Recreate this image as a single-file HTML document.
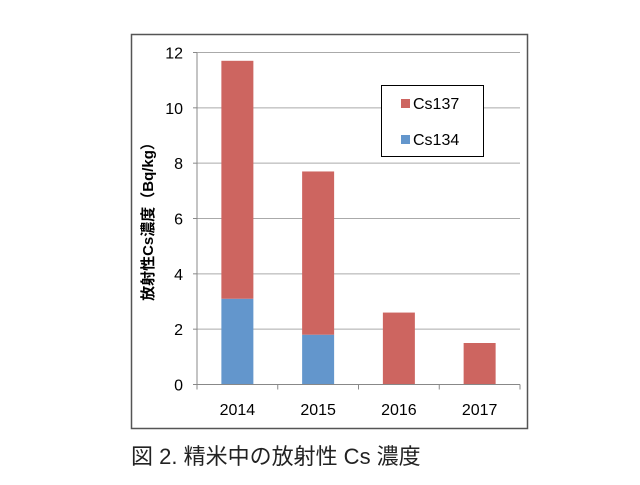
<!DOCTYPE html>
<html><head><meta charset="utf-8"><style>
body{margin:0;background:#fff;width:640px;height:480px;overflow:hidden;font-family:"Liberation Sans","Noto Sans CJK JP",sans-serif}
</style></head><body>
<svg width="640" height="480" xmlns="http://www.w3.org/2000/svg">
<rect x="131.5" y="34.5" width="396" height="394" fill="#fff" stroke="#555" stroke-width="1.5"/>
<g id="grid"></g><g id="bars"></g><g id="axes"></g>
<text transform="translate(153,218) rotate(-90)" text-anchor="middle" font-size="15" font-weight="bold" fill="#000">放射性Cs濃度（Bq/kg）</text>
<g>
<rect x="381.5" y="85.5" width="102" height="71" fill="#fff" stroke="#000" stroke-width="1"/>
<rect x="401" y="99" width="9" height="9" fill="#cd6560"/>
<text x="413" y="109" font-size="16">Cs137</text>
<rect x="401" y="135" width="9" height="9" fill="#6396cc"/>
<text x="413" y="145" font-size="16">Cs134</text>
</g>
<text x="131" y="464" font-size="22" fill="#222">図 2. 精米中の放射性 Cs 濃度</text>
</svg>
<script>
const categories=["2014","2015","2016","2017"];
const cs134=[3.1,1.8,0,0];
const cs137=[8.6,5.9,2.6,1.5];
const yTicks=[0,2,4,6,8,10,12];
const L=197,R=520,T=52.5,B=384.5,yMax=12;
const ns="http://www.w3.org/2000/svg";
const y=v=>B-(v/yMax)*(B-T);
const bw=(R-L)/categories.length;
const x=i=>L+bw*(i+0.5);
function mk(t,a,p){const e=document.createElementNS(ns,t);for(const k in a)e.setAttribute(k,a[k]);p.appendChild(e);return e;}
const g=document.getElementById('grid'),bars=document.getElementById('bars'),ax=document.getElementById('axes');
yTicks.forEach(v=>{
 if(v>0){const l=mk('line',{x1:L,x2:R,y1:y(v),y2:y(v),stroke:'#aaa','stroke-width':1},g);
 
 }
 const tk=mk('line',{x1:L-4,x2:L,y1:y(v),y2:y(v),stroke:'#888'},ax);
 
 
 const t=mk('text',{x:183,y:y(v)+6,'text-anchor':'end','font-size':16},ax);t.textContent=v;
 
 
});
const yl=mk('line',{x1:L,x2:L,y1:T,y2:B,stroke:'#888'},ax);


const xl=mk('line',{x1:L,x2:R,y1:B,y2:B,stroke:'#888'},ax);


for(let i=0;i<=categories.length;i++){const tk=mk('line',{x1:L+bw*i,x2:L+bw*i,y1:B,y2:B+5,stroke:'#888'},ax);
 
 }
categories.forEach((c,i)=>{
 const w=32,cx=x(i);
 if(cs134[i]>0){const r=mk('rect',{x:cx-w/2,y:y(cs134[i]),width:w,height:B-y(cs134[i]),fill:'#6396cc'},bars);
 
 }
 const top=cs134[i]+cs137[i];
 const r2=mk('rect',{x:cx-w/2,y:y(top),width:w,height:y(cs134[i])-y(top),fill:'#cd6560'},bars);
 
 
 const t=mk('text',{x:cx,y:415,'text-anchor':'middle','font-size':16},ax);t.textContent=c;
 
 
});
</script>
</body></html>
